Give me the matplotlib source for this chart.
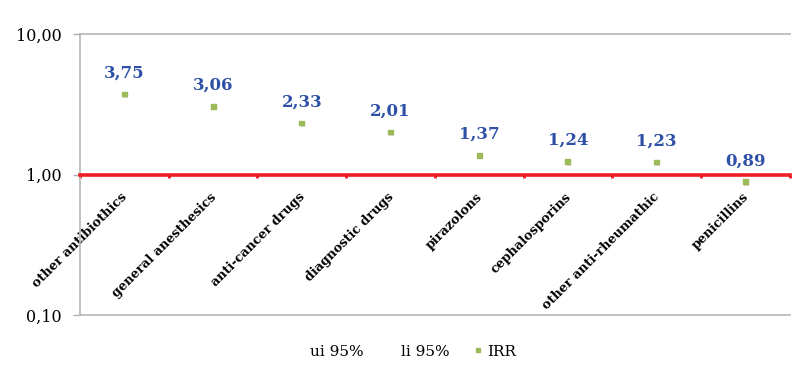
import matplotlib
matplotlib.use("Agg")
import matplotlib.pyplot as plt
from matplotlib.lines import Line2D
from matplotlib.ticker import FixedLocator, FuncFormatter, NullLocator
import matplotlib.patheffects as pe

categories = ["other antibiothics", "general anesthesics", "anti-cancer drugs",
              "diagnostic drugs", "pirazolons", "cephalosporins",
              "other anti-rheumathic", "penicillins"]
irr = [3.75, 3.06, 2.33, 2.01, 1.37, 1.24, 1.23, 0.89]
irr_labels = ["3,75", "3,06", "2,33", "2,01", "1,37", "1,24", "1,23", "0,89"]
y_ticks = [0.1, 1, 10]
legend_labels = ["ui 95%", "li 95%", "IRR"]

serif = "DejaVu Serif"
fig = plt.figure(figsize=(8.09, 3.75), dpi=100)
ax = fig.add_axes([0.099, 0.16, 0.877, 0.749])

x = list(range(len(categories)))
ax.set_yscale("log")
ax.set_ylim(0.1, 10)
ax.set_xlim(-0.5, len(categories) - 0.5)

pts = ax.scatter(x, irr, marker="s", s=12, color="#9BBB59", zorder=4,
                 path_effects=[pe.SimplePatchShadow(offset=(0.8, -1.2), shadow_rgbFace="#cccccc", alpha=0.8), pe.Normal()])

for xi, v, lab in zip(x, irr, irr_labels):
    ax.annotate(lab, (xi, v), xytext=(0, 9), textcoords="offset points",
                ha="center", va="bottom", fontsize=12, fontweight="bold",
                color="#2E50A6", family=serif)

# y axis
ax.yaxis.set_major_locator(FixedLocator(y_ticks))
ax.yaxis.set_minor_locator(NullLocator())
ax.yaxis.set_major_formatter(FuncFormatter(lambda v, p: f"{v:.2f}".replace(".", ",")))
ax.tick_params(axis="y", which="major", length=5, width=1, color="#b0b0b0",
               pad=8, labelsize=11.5)
for t in ax.get_yticklabels():
    t.set_family(serif)
for yv in (0.1, 10):
    ax.axhline(yv, color="#b8b8b8", lw=1.2, clip_on=False, zorder=1)

# x axis at 1.0, red
for s in ["top", "right"]:
    ax.spines[s].set_visible(False)
ax.spines["left"].set_color("#b8b8b8")
ax.spines["left"].set_linewidth(1.2)
ax.spines["bottom"].set_position(("data", 1))
ax.spines["bottom"].set_color("#ee1c25")
ax.spines["bottom"].set_linewidth(2.6)
ax.spines["bottom"].set_zorder(3)
ax.xaxis.set_major_locator(FixedLocator([i - 0.5 for i in range(len(categories) + 1)]))
ax.xaxis.set_major_formatter(FuncFormatter(lambda v, p: ""))
ax.xaxis.set_minor_locator(FixedLocator(x))
ax.set_xticklabels(categories, minor=True)
ax.tick_params(axis="x", which="major", length=2.5, width=2, color="#ee1c25", direction="out")
ax.tick_params(axis="x", which="minor", length=0, pad=14)
for t in ax.get_xticklabels(minor=True):
    t.set_rotation(45)
    t.set_ha("right")
    t.set_va("center_baseline")
    t.set_rotation_mode("anchor")
    t.set_family(serif)
    t.set_fontweight("bold")
    t.set_fontsize(9.2)

handles = [Line2D([], [], ls="none"), Line2D([], [], ls="none"),
           Line2D([], [], ls="none", marker="s", ms=2.5, color="#9BBB59")]
fig.legend(handles, legend_labels, loc="center", bbox_to_anchor=(0.503, 0.062),
           ncol=3, frameon=False, handlelength=0.5, handletextpad=0.35,
           columnspacing=1.6, prop={"family": serif, "size": 11})

fig.savefig("out.png", dpi=100)
